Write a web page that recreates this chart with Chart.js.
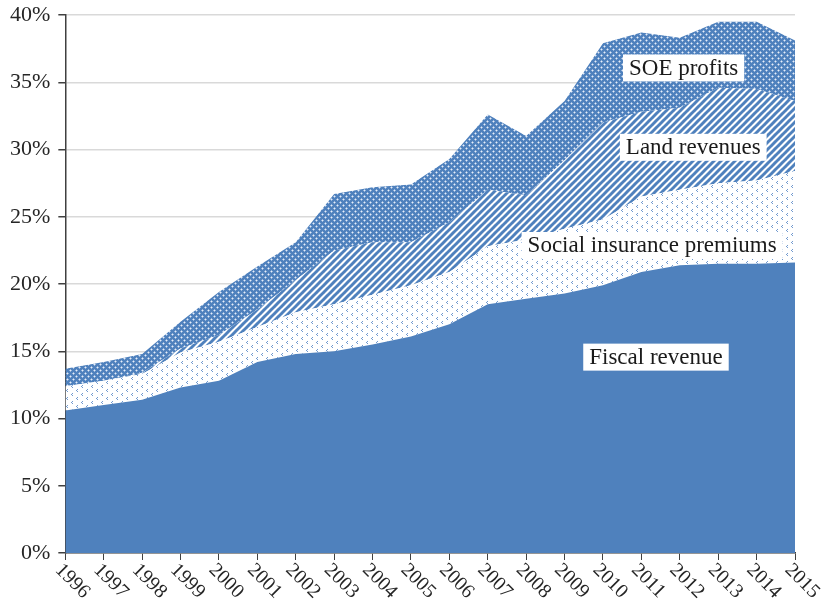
<!DOCTYPE html>
<html>
<head>
<meta charset="utf-8">
<script src="https://cdn.jsdelivr.net/npm/chart.js@4.4.0/dist/chart.umd.min.js"></script>
<style>
  body { margin: 0; background: #fff; }
</style>
</head>
<body>
<canvas id="revenueChart" width="822" height="603"></canvas>
<script>
const years = ['1996', '1997', '1998', '1999', '2000', '2001', '2002', '2003', '2004', '2005',
               '2006', '2007', '2008', '2009', '2010', '2011', '2012', '2013', '2014', '2015'];

// shares of GDP, %, each layer stacked on the one below
const fiscalRevenue = [10.6, 11.0, 11.4, 12.3, 12.8, 14.2, 14.8, 15.0, 15.5, 16.1,
                       17.0, 18.5, 18.9, 19.3, 19.9, 20.9, 21.4, 21.5, 21.5, 21.6];
const socialInsurance = [1.8, 1.8, 1.9, 2.6, 2.9, 2.6, 3.1, 3.5, 3.7, 3.8,
                         3.9, 4.3, 4.4, 4.8, 4.9, 5.6, 5.6, 6.0, 6.2, 6.8];
const landRevenues = [0.0, 0.0, 0.1, 0.3, 0.5, 1.3, 2.4, 4.0, 3.9, 3.2,
                      3.7, 4.2, 3.3, 5.1, 7.2, 6.3, 6.1, 7.1, 6.8, 5.2];
const soeProfits = [1.3, 1.4, 1.4, 2.0, 3.2, 3.2, 2.8, 4.2, 4.1, 4.3,
                    4.7, 5.6, 4.4, 4.4, 5.9, 5.9, 5.2, 4.9, 5.0, 4.5];

const yTicks = [0, 5, 10, 15, 20, 25, 30, 35, 40];

// in-chart labels: text, x as year index, y as percent
const areaLabels = [
    { text: 'SOE profits', x: 16.1, y: 36.1 },
    { text: 'Land revenues', x: 16.35, y: 30.2 },
    { text: 'Social insurance premiums', x: 15.28, y: 22.9 },
    { text: 'Fiscal revenue', x: 15.38, y: 14.6 }
];

const blue = '#4f81bd';
const serif = '"Liberation Serif", "DejaVu Serif", serif';

function makePattern(size, draw) {
    const c = document.createElement('canvas');
    c.width = size[0];
    c.height = size[1];
    const g = c.getContext('2d');
    draw(g);
    return g.createPattern(c, 'repeat');
}

const ctx = document.getElementById('revenueChart').getContext('2d');

// small blue chevrons on white
const dotPattern = makePattern([10, 8], g => {
    g.fillStyle = '#fff';
    g.fillRect(0, 0, 10, 8);
    g.fillStyle = '#7099cf';
    g.fillRect(2, 1, 1, 1); g.fillRect(1, 2, 1, 1); g.fillRect(2, 3, 1, 1);
    g.fillRect(7, 5, 1, 1); g.fillRect(6, 6, 1, 1); g.fillRect(7, 7, 1, 1);
});

// diagonal stripes
const stripePattern = makePattern([7, 7], g => {
    g.fillStyle = '#fff';
    g.fillRect(0, 0, 7, 7);
    g.strokeStyle = blue;
    g.lineWidth = 3;
    [[-7, 7], [0, 7], [7, 7]].forEach(([ox, oy]) => {
        g.beginPath();
        g.moveTo(ox - 1, oy + 1);
        g.lineTo(ox + 8, oy - 8);
        g.stroke();
    });
});

// fine checked pattern
const checkPattern = makePattern([6, 6], g => {
    g.fillStyle = blue;
    g.fillRect(0, 0, 6, 6);
    g.fillStyle = '#e6eef8';
    g.fillRect(1, 1, 1, 1);
    g.fillRect(4, 4, 1, 1);
    g.fillStyle = '#9bb7dc';
    g.fillRect(0, 1, 1, 1); g.fillRect(2, 1, 1, 1); g.fillRect(1, 0, 1, 1); g.fillRect(1, 2, 1, 1);
    g.fillRect(3, 4, 1, 1); g.fillRect(5, 4, 1, 1); g.fillRect(4, 3, 1, 1); g.fillRect(4, 5, 1, 1);
});

const rotatedYears = {
    id: 'rotatedYears',
    afterDraw(chart) {
        const xs = chart.scales.x;
        const c = chart.ctx;
        c.save();
        c.font = '20px ' + serif;
        c.fillStyle = '#262626';
        c.textAlign = 'left';
        c.textBaseline = 'middle';
        years.forEach((y, i) => {
            c.save();
            c.translate(xs.getPixelForValue(i) - 7, chart.chartArea.bottom + 14);
            c.rotate(45 * Math.PI / 180);
            c.fillText(y, 0, 0);
            c.restore();
        });
        c.restore();
    }
};

const boxLabels = {
    id: 'boxLabels',
    afterDatasetsDraw(chart) {
        const xs = chart.scales.x, ys = chart.scales.y;
        const c = chart.ctx;
        c.save();
        c.font = '23px ' + serif;
        c.textAlign = 'center';
        c.textBaseline = 'middle';
        areaLabels.forEach(l => {
            const px = xs.getPixelForValue(l.x);
            const py = ys.getPixelForValue(l.y);
            const w = c.measureText(l.text).width;
            c.fillStyle = '#fff';
            c.fillRect(px - w / 2 - 6, py - 13, w + 12, 27);
            c.fillStyle = '#1a1a1a';
            c.fillText(l.text, px, py + 1);
        });
        c.restore();
    }
};

const revenueChart = new Chart(ctx, {
    type: 'line',
    data: {
        labels: years,
        datasets: [{
            label: 'Fiscal revenue',
            data: fiscalRevenue,
            backgroundColor: blue,
            fill: 'origin'
        }, {
            label: 'Social insurance premiums',
            data: socialInsurance,
            backgroundColor: dotPattern,
            fill: '-1'
        }, {
            label: 'Land revenues',
            data: landRevenues,
            backgroundColor: stripePattern,
            fill: '-1'
        }, {
            label: 'SOE profits',
            data: soeProfits,
            backgroundColor: checkPattern,
            fill: '-1'
        }]
    },
    options: {
        responsive: false,
        animation: false,
        elements: {
            line: { borderWidth: 0, tension: 0 },
            point: { radius: 0 }
        },
        layout: {
            padding: { top: 15, right: 27, bottom: 43, left: 2 }
        },
        plugins: {
            legend: { display: false },
            tooltip: { enabled: false }
        },
        scales: {
            x: {
                offset: false,
                grid: {
                    drawOnChartArea: false,
                    drawTicks: true,
                    tickLength: 7,
                    tickColor: '#404040'
                },
                border: { color: '#404040', width: 1.5 },
                ticks: { display: false }
            },
            y: {
                stacked: true,
                min: 0,
                max: 40,
                afterBuildTicks: axis => { axis.ticks = yTicks.map(v => ({ value: v })); },
                afterFit: axis => { axis.paddingTop = 0; axis.paddingBottom = 0; },
                grid: {
                    color: '#d9d9d9',
                    lineWidth: 1.5,
                    tickLength: 7,
                    tickColor: '#404040'
                },
                border: { color: '#404040', width: 1.5 },
                ticks: {
                    color: '#262626',
                    font: { family: serif, size: 22 },
                    padding: 8,
                    callback: v => v + '%'
                }
            }
        }
    },
    plugins: [boxLabels, rotatedYears]
});
</script>
</body>
</html>
